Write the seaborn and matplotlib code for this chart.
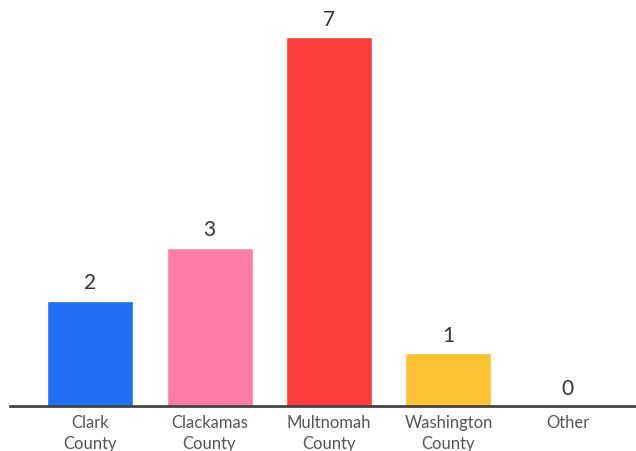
import matplotlib
matplotlib.use("Agg")
import matplotlib.pyplot as plt
import seaborn as sns
import pandas as pd

categories = ["Clark\nCounty", "Clackamas\nCounty", "Multnomah\nCounty", "Washington\nCounty", "Other"]
counts = [2, 3, 7, 1, 0]
colors = ["#1f6ef5", "#fd7ca6", "#fd3c3c", "#fdc232", "#cccccc"]

sns.set_style("white")
plt.rcParams["font.family"] = ["Lato", "DejaVu Sans"]

df = pd.DataFrame({"county": categories, "count": counts})

fig = plt.figure(figsize=(6.36, 4.52), dpi=100)
ax = fig.add_axes([10 / 636, 1 - 407 / 452, 1 - 10 / 636, 407 / 452])
sns.barplot(data=df, x="county", y="count", hue="county", palette=colors,
            legend=False, width=0.72, saturation=1, ax=ax)

for i, v in enumerate(counts):
    ax.text(i, v + 0.16, str(v), ha="center", va="bottom", fontsize=15, color="#333333")

ax.set_xlim(-0.67, 4.57)
ax.set_ylim(0, 7.72)
ax.set_xlabel("")
ax.set_ylabel("")
ax.set_yticks([])
ax.tick_params(axis="x", length=0, pad=6, labelsize=12, labelcolor="#555555")
for lab in ax.get_xticklabels():
    lab.set_linespacing(1.35)
for s in ["top", "right", "left"]:
    ax.spines[s].set_visible(False)
ax.spines["bottom"].set_color("#444444")
ax.spines["bottom"].set_linewidth(2)

fig.savefig("out.png", dpi=100)
